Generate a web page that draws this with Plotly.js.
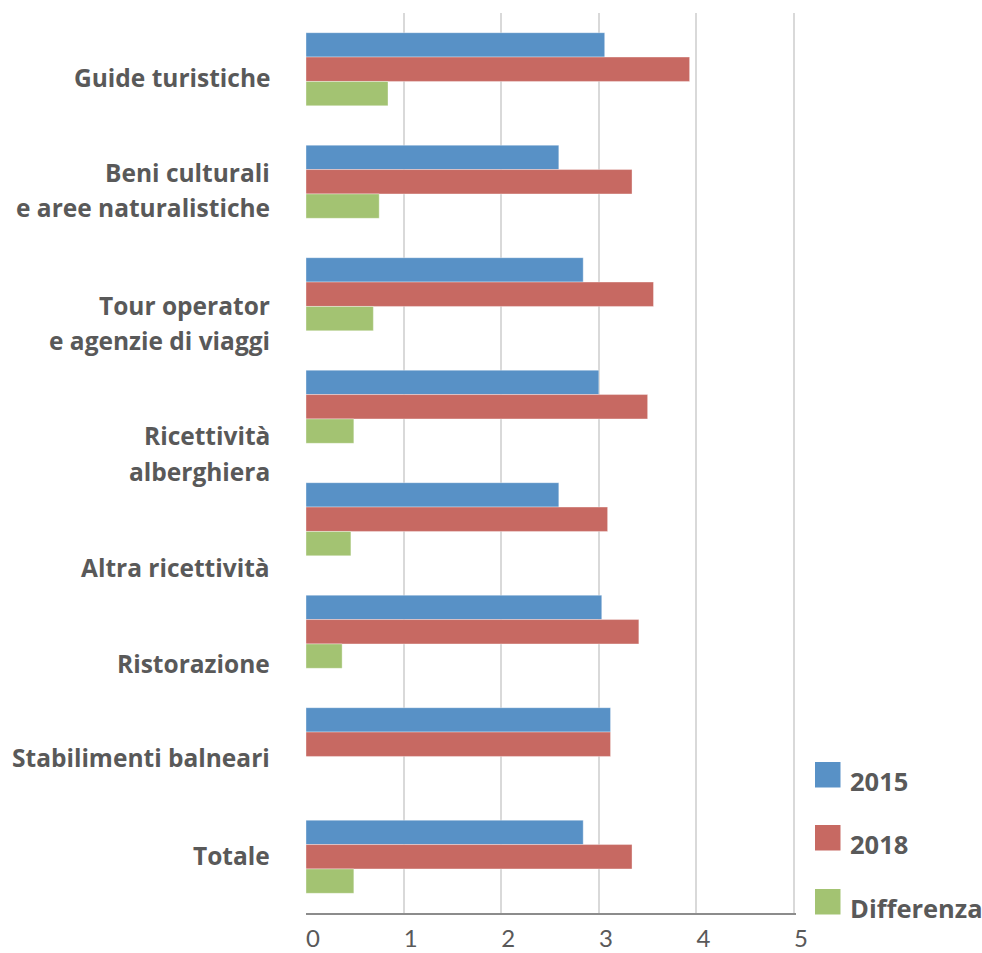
<!DOCTYPE html>
<html>
<head>
<meta charset="utf-8">
<script src="https://cdn.plot.ly/plotly-3.0.1.min.js"></script>
<style>
  html, body { margin: 0; padding: 0; background: #ffffff; }
  #chart { width: 982px; height: 953px; }
</style>
</head>
<body>
<div id="chart"></div>
<script>
// ---- data ----
const categories = [
  "Guide turistiche",
  "Beni culturali e aree naturalistiche",
  "Tour operator e agenzie di viaggi",
  "Ricettività alberghiera",
  "Altra ricettività",
  "Ristorazione",
  "Stabilimenti balneari",
  "Totale"
];
const labelLines = [
  ["Guide turistiche"],
  ["Beni culturali", "e aree naturalistiche"],
  ["Tour operator", "e agenzie di viaggi"],
  ["Ricettività", "alberghiera"],
  ["Altra ricettività"],
  ["Ristorazione"],
  ["Stabilimenti balneari"],
  ["Totale"]
];
const seriesNames = ["2015", "2018", "Differenza"];
const values2015 = [3.06, 2.59, 2.84, 3.00, 2.59, 3.03, 3.12, 2.84];
const values2018 = [3.93, 3.34, 3.56, 3.50, 3.09, 3.41, 3.12, 3.34];
const valuesDiff = [0.84, 0.75, 0.69, 0.49, 0.46, 0.37, 0.00, 0.49];
const xTicks = [0, 1, 2, 3, 4, 5];

// ---- styling / layout (pixels) ----
const colors = ["#5891c6", "#c76962", "#a3c372"];
const textColor = "#595959";
const FONT = "'Open Sans', Lato, sans-serif";
const W = 982, H = 953;
const M = { l: 306, r: 186, t: 13, b: 40 };
const PW = W - M.l - M.r, PH = H - M.t - M.b;
const px2x = p => (p - M.l) / PW;
const px2y = p => (H - M.b - p) / PH;

// label line offsets from category centre (pixels, positive = downwards)
const lineOffsets = [
  [9],
  [-8, 27],
  [12, 47],
  [30, 66],
  [49],
  [33],
  [14],
  [0]
];

const allValues = [values2015, values2018, valuesDiff];
const traces = allValues.map((vals, i) => ({
  type: "bar",
  orientation: "h",
  name: seriesNames[i],
  y: categories,
  x: vals,
  marker: { color: colors[i], line: { color: "rgba(255,255,255,0.6)", width: 0.6 } },
  hoverinfo: "x+name"
}));

const annotations = [];
labelLines.forEach((lines, ci) => {
  lines.forEach((txt, li) => {
    annotations.push({
      xref: "paper", yref: "y",
      x: 0, y: categories[ci],
      xanchor: "right", yanchor: "middle",
      xshift: -34, yshift: -lineOffsets[ci][li] + 1,
      text: "<b>" + txt + "</b>",
      showarrow: false,
      font: { family: FONT, size: 24.5, color: textColor }
    });
  });
});

// custom legend
const legendTop = [762, 825, 889];
const shapes = [];
seriesNames.forEach((nm, i) => {
  shapes.push({
    type: "rect", xref: "paper", yref: "paper",
    x0: px2x(815), x1: px2x(840.5),
    y0: px2y(legendTop[i]), y1: px2y(legendTop[i] + 25.5),
    fillcolor: colors[i], line: { width: 0 }
  });
  annotations.push({
    xref: "paper", yref: "paper",
    x: px2x(848), y: px2y(legendTop[i] + 19),
    xanchor: "left", yanchor: "middle",
    text: "<b>" + nm + "</b>",
    showarrow: false,
    font: { family: FONT, size: 25.5, color: textColor }
  });
});

const layout = {
  width: W, height: H,
  margin: M,
  paper_bgcolor: "#ffffff",
  plot_bgcolor: "#ffffff",
  barmode: "group",
  bargap: 0.35,
  bargroupgap: 0,
  showlegend: false,
  xaxis: {
    range: [0, 5.02],
    tickmode: "array",
    tickvals: xTicks,
    ticktext: xTicks.map(String),
    showgrid: true, gridcolor: "#d9d9d9", gridwidth: 2,
    zeroline: false,
    showline: true, linecolor: "#8c8c8c", linewidth: 2,
    ticks: "",
    ticklabelstandoff: 3,
    ticklabelshift: 7,
    tickfont: { family: "Lato, sans-serif", size: 24, color: textColor },
    fixedrange: true
  },
  yaxis: {
    type: "category",
    categoryorder: "array",
    categoryarray: categories,
    autorange: "reversed",
    showticklabels: false,
    showgrid: false, zeroline: false, showline: false,
    ticks: "",
    fixedrange: true
  },
  annotations: annotations,
  shapes: shapes
};

Plotly.newPlot("chart", traces, layout, { displayModeBar: false, staticPlot: true });
</script>
</body>
</html>
